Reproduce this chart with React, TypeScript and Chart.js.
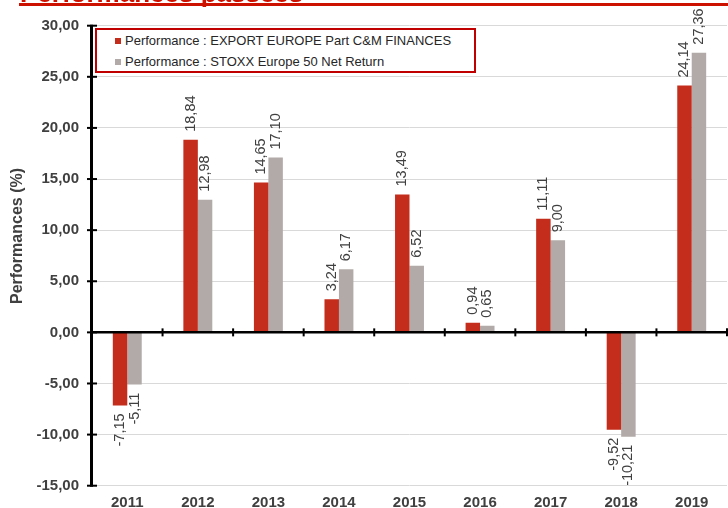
import React, { useEffect, useRef } from "react";
import { Chart, registerables } from "chart.js";

Chart.register(...registerables);

const years = ["2011", "2012", "2013", "2014", "2015", "2016", "2017", "2018", "2019"];
const fundValues = [-7.15, 18.84, 14.65, 3.24, 13.49, 0.94, 11.11, -9.52, 24.14];
const indexValues = [-5.11, 12.98, 17.1, 6.17, 6.52, 0.65, 9.0, -10.21, 27.36];
const yTicks = [-15, -10, -5, 0, 5, 10, 15, 20, 25, 30];
const fundLabel = "Performance : EXPORT EUROPE Part C&M FINANCES";
const indexLabel = "Performance : STOXX Europe 50 Net Return";
const axisTitle = "Performances (%)";
const chartTitle = "Performances passées";

const RED = "#C42C1B";
const GRAY = "#B2AAA8";
const TEXT = "#404040";
const FONT = "'Liberation Sans', Arial, sans-serif";

const fmt = (v: number) => v.toFixed(2).replace(".", ",");

const decor = {
  id: "decor",
  afterDatasetsDraw(chart: any) {
    const ctx = chart.ctx as CanvasRenderingContext2D;
    const { left, right, top, bottom } = chart.chartArea;
    const ys = chart.scales.y;
    const xs = chart.scales.x;
    const y0 = ys.getPixelForValue(0);
    ctx.save();
    ctx.strokeStyle = "#000";
    // zero line
    ctx.lineWidth = 2.5;
    ctx.beginPath();
    ctx.moveTo(left, y0);
    ctx.lineTo(right, y0);
    ctx.stroke();
    // y axis line
    ctx.lineWidth = 3;
    ctx.beginPath();
    ctx.moveTo(left - 0.5, top - 1);
    ctx.lineTo(left - 0.5, bottom + 1);
    ctx.stroke();
    // y tick marks
    ctx.lineWidth = 2;
    yTicks.forEach((v) => {
      const py = ys.getPixelForValue(v);
      ctx.beginPath();
      ctx.moveTo(left - 5, py);
      ctx.lineTo(left + 5, py);
      ctx.stroke();
    });
    // x tick marks on zero line at category boundaries
    for (let i = 0; i < years.length; i++) {
      const px = xs.getPixelForValue(i + 0.5);
      ctx.beginPath();
      ctx.moveTo(px, y0 - 4);
      ctx.lineTo(px, y0 + 4);
      ctx.stroke();
    }
    // data labels
    ctx.fillStyle = TEXT;
    ctx.font = `14.5px ${FONT}`;
    ctx.textBaseline = "middle";
    chart.data.datasets.forEach((ds: any, di: number) => {
      const meta = chart.getDatasetMeta(di);
      meta.data.forEach((el: any, i: number) => {
        const v = ds.data[i] as number;
        ctx.save();
        ctx.translate(el.x, v >= 0 ? el.y - 8 : el.y + 8);
        ctx.rotate(-Math.PI / 2);
        ctx.textAlign = v >= 0 ? "left" : "right";
        ctx.fillText(fmt(v), 0, 0);
        ctx.restore();
      });
    });
    // y axis title
    ctx.save();
    ctx.translate(18, 236);
    ctx.rotate(-Math.PI / 2);
    ctx.font = `bold 16px ${FONT}`;
    ctx.textAlign = "center";
    ctx.textBaseline = "middle";
    ctx.fillText(axisTitle, 0, 0);
    ctx.restore();
    ctx.restore();
  },
};

export default function App() {
  const canvasRef = useRef<HTMLCanvasElement | null>(null);

  useEffect(() => {
    const canvas = canvasRef.current;
    if (!canvas) return;
    const chart = new Chart(canvas, {
      type: "bar",
      data: {
        labels: years,
        datasets: [
          {
            label: fundLabel,
            data: fundValues,
            backgroundColor: RED,
            categoryPercentage: 0.41,
            barPercentage: 1,
          },
          {
            label: indexLabel,
            data: indexValues,
            backgroundColor: GRAY,
            categoryPercentage: 0.41,
            barPercentage: 1,
          },
        ],
      },
      options: {
        responsive: false,
        maintainAspectRatio: false,
        animation: false,
        events: [],
        layout: { padding: { left: 0, right: 1, top: 25.7, bottom: 0 } },
        plugins: {
          legend: { display: false },
          tooltip: { enabled: false },
          title: { display: false },
        },
        scales: {
          x: {
            grid: { display: false, drawTicks: false },
            border: { display: false },
            ticks: {
              color: TEXT,
              font: { family: FONT, size: 15, weight: "bold" },
              padding: 8,
              maxRotation: 0,
              autoSkip: false,
            },
            afterFit: (scale: any) => {
              scale.height = 22.3;
            },
          },
          y: {
            min: -15,
            max: 30,
            grid: { color: "#D9D9D9", lineWidth: 1, drawTicks: false },
            border: { display: false },
            ticks: {
              stepSize: 5,
              color: TEXT,
              font: { family: FONT, size: 15, weight: "bold" },
              padding: 13,
              callback: (v: any) => fmt(Number(v)),
            },
            afterFit: (scale: any) => {
              scale.width = 92;
            },
          },
        },
      },
      plugins: [decor],
    });
    return () => chart.destroy();
  }, []);

  const legendRow = (color: string, text: string, cy: number) => (
    <div
      style={{
        position: "absolute",
        left: 115,
        top: cy - 9,
        height: 18,
        display: "flex",
        alignItems: "center",
        whiteSpace: "nowrap",
      }}
    >
      <span style={{ display: "inline-block", width: 6, height: 6, background: color, marginRight: 4 }} />
      <span style={{ fontFamily: FONT, fontSize: 13, color: "#262626", lineHeight: "18px" }}>{text}</span>
    </div>
  );

  return (
    <div
      style={{
        position: "absolute",
        left: 0,
        top: 0,
        width: 728,
        height: 508,
        overflow: "hidden",
        background: "#fff",
      }}
    >
      <canvas ref={canvasRef} width={728} height={508} style={{ display: "block" }} />
      <div
        style={{
          position: "absolute",
          left: 20,
          top: -20,
          fontFamily: FONT,
          fontWeight: "bold",
          fontSize: 26,
          lineHeight: "26px",
          color: "#CC1100",
          whiteSpace: "nowrap",
        }}
      >
        {chartTitle}
      </div>
      <div style={{ position: "absolute", left: 19, top: 3, width: 709, height: 3, background: "#CC1100" }} />
      <div
        style={{
          position: "absolute",
          left: 95,
          top: 28,
          width: 381,
          height: 45,
          boxSizing: "border-box",
          border: "2px solid #C00000",
          background: "#fff",
        }}
      />
      {legendRow(RED, fundLabel, 40.7)}
      {legendRow(GRAY, indexLabel, 61.7)}
    </div>
  );
}
